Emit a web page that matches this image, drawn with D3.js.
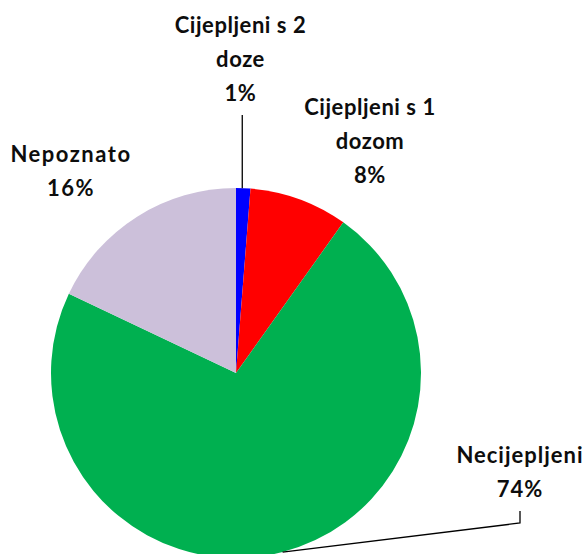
<!DOCTYPE html>
<html>
<head>
<meta charset="utf-8">
<script src="https://cdn.jsdelivr.net/npm/d3@7"></script>
<style>
  html, body { margin: 0; padding: 0; background: #fff; }
  svg { display: block; }
</style>
</head>
<body>
<svg id="chart" width="587" height="554"></svg>
<script>
// podaci
const categories = ['Cijepljeni s 2 doze', 'Cijepljeni s 1 dozom', 'Necijepljeni', 'Nepoznato']
const values = [1.25, 8.6, 72.2, 17.95]
const labelLines = [
  ['Cijepljeni s 2', 'doze', '1%'],
  ['Cijepljeni s 1', 'dozom', '8%'],
  ['Necijepljeni', '74%'],
  ['Nepoznato', '16%'],
]
const colors = ['#0000FF', '#FF0000', '#00B050', '#CCC0DA']

const svg = d3.select('#chart')
const cx = 236
const cy = 373
const radius = 185

const pie = d3.pie().sort(null).value(d => d)
const arcs = pie(values)
const arc = d3.arc().innerRadius(0).outerRadius(radius)
const edge = d3.arc().innerRadius(radius).outerRadius(radius)

const g = svg.append('g').attr('transform', `translate(${cx},${cy})`)

// kriške
g.selectAll('path.slice')
  .data(arcs)
  .enter()
  .append('path')
  .attr('class', 'slice')
  .attr('d', arc)
  .attr('fill', (d, i) => colors[i])

// položaj oznaka (sredina teksta, prva bazna linija), relativno prema centru
const labelPos = [
  { x: 240.5 - cx, y: 33 - cy, ls: 0.55 },
  { x: 370 - cx, y: 115 - cy, ls: 0.55 },
  { x: 520 - cx, y: 463 - cy, ls: 1.0 },
  { x: 71 - cx, y: 162 - cy, ls: 1.5 },
]
const lineH = 34

const labels = g.selectAll('text.lbl')
  .data(arcs)
  .enter()
  .append('text')
  .attr('class', 'lbl')
  .attr('text-anchor', 'middle')
  .attr('font-family', 'Lato, "Open Sans", sans-serif')
  .attr('font-weight', 'bold')
  .attr('font-size', '22px')
  .attr('fill', '#0d0d0d')

labels.each(function (d, i) {
  const t = d3.select(this)
  labelLines[i].forEach((s, j) => {
    t.append('tspan')
      .attr('x', labelPos[i].x)
      .attr('y', labelPos[i].y + j * lineH)
      .attr('letter-spacing', labelPos[i].ls)
      .text(s)
  })
})

// linije vodilice
const leader = d3.line()
// 2 doze: ravna linija od oznake do ruba
const p0 = edge.centroid(arcs[0])
g.append('path')
  .attr('d', leader([[p0[0] - 1, 115 - cy], [p0[0] - 1, p0[1]]]))
  .attr('stroke', '#000').attr('stroke-width', 1.3).attr('fill', 'none')

// necijepljeni: izlomljena linija
const p2 = edge.centroid(arcs[2])
g.append('path')
  .attr('d', leader([[520 - cx, 511 - cy], [520 - cx, 523 - cy], p2]))
  .attr('stroke', '#000').attr('stroke-width', 1.3).attr('fill', 'none')
</script>
</body>
</html>
